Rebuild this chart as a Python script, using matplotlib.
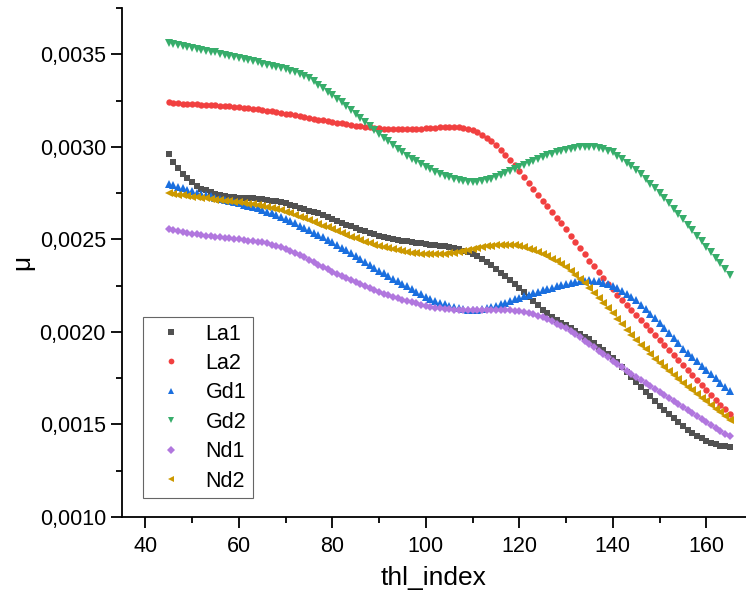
"""Recreate the mu vs thl_index scatter chart."""

import matplotlib
import matplotlib.pyplot as plt
import numpy as np
from matplotlib.ticker import FuncFormatter, MultipleLocator

matplotlib.use("Agg")

plt.rcParams["font.family"] = ["Liberation Sans", "DejaVu Sans"]

# thl_index values (every integer 45..165)
thl_index = list(range(45, 166))

# mu values in units of 1e-3
la1_e3 = [
    2.960, 2.920, 2.885, 2.855, 2.830, 2.810, 2.790, 2.775, 2.765, 2.755,
    2.745, 2.740, 2.735, 2.730, 2.727, 2.725, 2.723, 2.722, 2.721, 2.720,
    2.718, 2.714, 2.710, 2.705, 2.700, 2.695, 2.688, 2.680, 2.672, 2.664,
    2.656, 2.648, 2.640, 2.630, 2.620, 2.610, 2.600, 2.590, 2.580, 2.570,
    2.560, 2.552, 2.544, 2.536, 2.528, 2.520, 2.514, 2.508, 2.503, 2.498,
    2.494, 2.490, 2.486, 2.482, 2.478, 2.475, 2.472, 2.469, 2.466, 2.462,
    2.458, 2.452, 2.446, 2.439, 2.430, 2.420, 2.408, 2.394, 2.377, 2.359,
    2.340, 2.320, 2.300, 2.280, 2.260, 2.240, 2.215, 2.190, 2.167, 2.143,
    2.120, 2.100, 2.083, 2.067, 2.050, 2.035, 2.020, 2.005, 1.990, 1.975,
    1.960, 1.940, 1.920, 1.900, 1.880, 1.860, 1.835, 1.810, 1.783, 1.757,
    1.730, 1.704, 1.678, 1.652, 1.626, 1.600, 1.578, 1.556, 1.534, 1.512,
    1.490, 1.472, 1.455, 1.440, 1.425, 1.412, 1.400, 1.392, 1.386, 1.382,
    1.380,
]
la2_e3 = [
    3.240, 3.238, 3.236, 3.234, 3.232, 3.230, 3.229, 3.228, 3.227, 3.226,
    3.225, 3.223, 3.221, 3.219, 3.217, 3.215, 3.212, 3.209, 3.206, 3.203,
    3.200, 3.196, 3.192, 3.188, 3.184, 3.180, 3.175, 3.170, 3.165, 3.160,
    3.155, 3.151, 3.147, 3.143, 3.139, 3.135, 3.131, 3.127, 3.123, 3.119,
    3.115, 3.112, 3.109, 3.106, 3.103, 3.100, 3.099, 3.098, 3.097, 3.096,
    3.095, 3.096, 3.097, 3.098, 3.099, 3.100, 3.102, 3.104, 3.106, 3.107,
    3.108, 3.109, 3.108, 3.104, 3.098, 3.090, 3.079, 3.066, 3.050, 3.031,
    3.010, 2.984, 2.957, 2.929, 2.900, 2.870, 2.838, 2.806, 2.774, 2.742,
    2.710, 2.679, 2.648, 2.617, 2.586, 2.555, 2.521, 2.487, 2.453, 2.419,
    2.385, 2.354, 2.323, 2.292, 2.261, 2.230, 2.202, 2.174, 2.146, 2.118,
    2.090, 2.063, 2.036, 2.009, 1.982, 1.955, 1.928, 1.901, 1.874, 1.847,
    1.820, 1.793, 1.766, 1.739, 1.712, 1.685, 1.659, 1.633, 1.607, 1.581,
    1.555,
]
gd1_e3 = [
    2.800, 2.792, 2.784, 2.776, 2.768, 2.760, 2.753, 2.746, 2.739, 2.732,
    2.725, 2.719, 2.713, 2.707, 2.701, 2.695, 2.688, 2.681, 2.674, 2.667,
    2.660, 2.650, 2.640, 2.630, 2.620, 2.610, 2.598, 2.586, 2.574, 2.562,
    2.550, 2.537, 2.524, 2.511, 2.498, 2.485, 2.470, 2.455, 2.440, 2.425,
    2.410, 2.394, 2.378, 2.362, 2.346, 2.330, 2.316, 2.302, 2.288, 2.274,
    2.260, 2.246, 2.232, 2.218, 2.204, 2.190, 2.179, 2.168, 2.158, 2.149,
    2.140, 2.133, 2.127, 2.122, 2.119, 2.118, 2.119, 2.122, 2.127, 2.133,
    2.140, 2.149, 2.158, 2.167, 2.176, 2.185, 2.193, 2.201, 2.209, 2.217,
    2.225, 2.232, 2.239, 2.246, 2.252, 2.258, 2.263, 2.268, 2.273, 2.276,
    2.278, 2.277, 2.273, 2.267, 2.259, 2.250, 2.236, 2.220, 2.204, 2.187,
    2.170, 2.147, 2.123, 2.099, 2.075, 2.050, 2.022, 1.994, 1.966, 1.938,
    1.910, 1.887, 1.864, 1.841, 1.818, 1.795, 1.772, 1.749, 1.726, 1.703,
    1.680,
]
gd2_e3 = [
    3.560, 3.555, 3.550, 3.545, 3.540, 3.535, 3.530, 3.525, 3.520, 3.515,
    3.510, 3.504, 3.498, 3.492, 3.486, 3.480, 3.474, 3.468, 3.462, 3.456,
    3.450, 3.445, 3.439, 3.433, 3.427, 3.420, 3.412, 3.403, 3.393, 3.382,
    3.370, 3.354, 3.336, 3.318, 3.299, 3.280, 3.260, 3.240, 3.220, 3.200,
    3.180, 3.158, 3.136, 3.114, 3.092, 3.070, 3.050, 3.030, 3.010, 2.990,
    2.970, 2.953, 2.937, 2.921, 2.905, 2.890, 2.878, 2.866, 2.855, 2.845,
    2.835, 2.827, 2.820, 2.815, 2.812, 2.810, 2.811, 2.814, 2.819, 2.826,
    2.835, 2.846, 2.857, 2.868, 2.879, 2.890, 2.901, 2.912, 2.923, 2.934,
    2.945, 2.954, 2.963, 2.971, 2.978, 2.985, 2.990, 2.995, 2.998, 3.000,
    3.000, 2.998, 2.993, 2.986, 2.978, 2.970, 2.953, 2.934, 2.915, 2.895,
    2.875, 2.851, 2.826, 2.801, 2.776, 2.750, 2.722, 2.694, 2.666, 2.638,
    2.610, 2.580, 2.550, 2.520, 2.490, 2.460, 2.430, 2.400, 2.370, 2.340,
    2.310,
]
nd1_e3 = [
    2.555, 2.549, 2.543, 2.538, 2.534, 2.530, 2.527, 2.524, 2.521, 2.518,
    2.515, 2.512, 2.509, 2.506, 2.503, 2.500, 2.497, 2.494, 2.491, 2.488,
    2.485, 2.479, 2.472, 2.465, 2.458, 2.450, 2.439, 2.427, 2.415, 2.403,
    2.390, 2.377, 2.364, 2.351, 2.338, 2.325, 2.314, 2.303, 2.292, 2.281,
    2.270, 2.259, 2.248, 2.237, 2.226, 2.215, 2.206, 2.198, 2.190, 2.182,
    2.175, 2.168, 2.161, 2.154, 2.147, 2.140, 2.135, 2.131, 2.127, 2.124,
    2.122, 2.120, 2.119, 2.118, 2.117, 2.117, 2.118, 2.119, 2.120, 2.120,
    2.120, 2.119, 2.118, 2.116, 2.115, 2.113, 2.108, 2.102, 2.095, 2.088,
    2.080, 2.069, 2.057, 2.045, 2.033, 2.020, 2.004, 1.987, 1.970, 1.953,
    1.935, 1.917, 1.899, 1.881, 1.863, 1.845, 1.827, 1.809, 1.791, 1.773,
    1.755, 1.739, 1.723, 1.707, 1.691, 1.675, 1.659, 1.643, 1.627, 1.611,
    1.595, 1.579, 1.563, 1.547, 1.531, 1.515, 1.499, 1.483, 1.467, 1.451,
    1.435,
]
nd2_e3 = [
    2.750, 2.746, 2.742, 2.738, 2.734, 2.730, 2.727, 2.724, 2.721, 2.718,
    2.715, 2.712, 2.709, 2.706, 2.703, 2.700, 2.697, 2.693, 2.689, 2.685,
    2.680, 2.675, 2.669, 2.663, 2.657, 2.650, 2.641, 2.632, 2.623, 2.614,
    2.605, 2.595, 2.585, 2.575, 2.565, 2.555, 2.545, 2.535, 2.525, 2.515,
    2.505, 2.496, 2.488, 2.480, 2.472, 2.465, 2.458, 2.452, 2.446, 2.440,
    2.435, 2.431, 2.427, 2.424, 2.422, 2.420, 2.420, 2.420, 2.421, 2.423,
    2.425, 2.429, 2.434, 2.439, 2.445, 2.450, 2.455, 2.459, 2.463, 2.466,
    2.468, 2.469, 2.470, 2.470, 2.468, 2.465, 2.458, 2.450, 2.441, 2.431,
    2.420, 2.408, 2.395, 2.381, 2.366, 2.350, 2.330, 2.309, 2.287, 2.264,
    2.240, 2.213, 2.185, 2.157, 2.129, 2.100, 2.071, 2.042, 2.013, 1.984,
    1.955, 1.930, 1.905, 1.880, 1.855, 1.830, 1.809, 1.788, 1.767, 1.746,
    1.725, 1.705, 1.685, 1.665, 1.645, 1.625, 1.605, 1.585, 1.565, 1.545,
    1.525,
]

series_names = ["La1", "La2", "Gd1", "Gd2", "Nd1", "Nd2"]
series_values = [la1_e3, la2_e3, gd1_e3, gd2_e3, nd1_e3, nd2_e3]

# Origin-style palette and markers
colors = ["#515151", "#F14040", "#1A6FDF", "#37AD6B", "#B177DE", "#CC9900"]
markers = ["s", "o", "^", "v", "D", "<"]
sizes = [4.2, 4.6, 5.2, 5.2, 4.2, 5.2]

fig = plt.figure(figsize=(7.46, 5.98), dpi=100)
ax = fig.add_axes([0.1635, 0.1355, 0.8365, 0.851])

for name, vals, color, marker, ms in zip(
    series_names, series_values, colors, markers, sizes
):
    ax.plot(
        thl_index,
        np.array(vals) * 1e-3,
        linestyle="none",
        marker=marker,
        markersize=ms,
        markeredgewidth=0,
        color=color,
        label=name,
    )

ax.set_xlim(35, 168.5)
ax.set_ylim(0.0010, 0.00375)

ax.xaxis.set_major_locator(MultipleLocator(20))
ax.xaxis.set_minor_locator(MultipleLocator(10))
ax.yaxis.set_major_locator(MultipleLocator(0.0005))
ax.yaxis.set_minor_locator(MultipleLocator(0.00025))
ax.yaxis.set_major_formatter(
    FuncFormatter(lambda v, p: f"{v:.4f}".replace(".", ","))
)

ax.tick_params(which="major", direction="out", length=8, width=1.3, labelsize=15.5)
ax.tick_params(which="minor", direction="out", length=4.5, width=1.3)
ax.tick_params(axis="x", pad=6)

for side in ["top", "right"]:
    ax.spines[side].set_visible(False)
for side in ["left", "bottom"]:
    ax.spines[side].set_linewidth(1.3)

ax.set_xlabel("thl_index", fontsize=19, labelpad=6)
ax.set_ylabel("μ", fontsize=19, labelpad=4)

leg = ax.legend(
    loc="lower left",
    bbox_to_anchor=(0.0337, 0.0373),
    borderaxespad=0,
    fontsize=15.5,
    numpoints=1,
    markerscale=0.9,
    handlelength=2.0,
    handletextpad=0.6,
    labelspacing=0.39,
    borderpad=0.3,
    fancybox=False,
    framealpha=1,
    edgecolor="#666666",
)
leg.get_frame().set_linewidth(0.8)

plt.savefig("out.png", dpi=100)
plt.close()
